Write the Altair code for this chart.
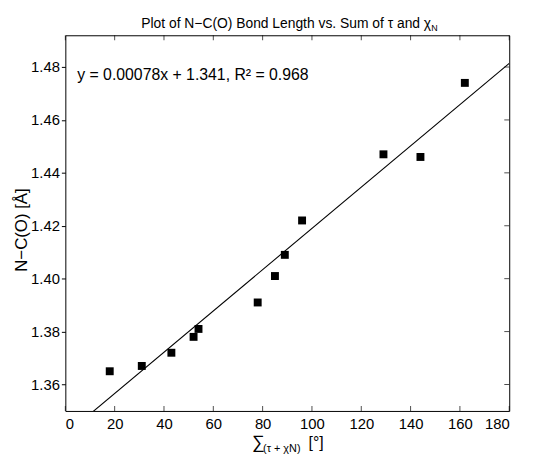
import altair as alt
import pandas as pd

# ---- data ----
x_vals = [18, 31, 43, 52, 54, 78, 85, 89, 96, 129, 144, 162]
y_vals = [1.365, 1.367, 1.372, 1.378, 1.381, 1.391, 1.401, 1.409, 1.422, 1.447, 1.446, 1.474]
slope = 0.00078
intercept = 1.341
r2 = 0.968
x_ticks = [0, 20, 40, 60, 80, 100, 120, 140, 160, 180]
y_ticks = [1.36, 1.38, 1.40, 1.42, 1.44, 1.46, 1.48]
x_domain = [0, 180]
y_domain = [1.35, 1.492]

W, H = 449, 380
FONT = "Liberation Sans"

pts = pd.DataFrame({"x": x_vals, "y": y_vals})
line_df = pd.DataFrame({"x": x_domain,
                        "y": [intercept + slope * v for v in x_domain]})
xt = pd.DataFrame({"v": x_ticks})
yt = pd.DataFrame({"v": y_ticks})
one = pd.DataFrame({"a": [0]})

xscale = alt.Scale(domain=x_domain, nice=False, zero=False)
yscale = alt.Scale(domain=y_domain, nice=False, zero=False)

xaxis = alt.Axis(values=x_ticks, ticks=False, domain=False, grid=False,
                 labelFont=FONT, labelFontSize=15, labelColor="black",
                 labelPadding=6, title=None, format="d")
yaxis = alt.Axis(values=y_ticks, tickSize=4, tickColor="black", tickWidth=1,
                 domain=False, grid=False, labelFont=FONT, labelFontSize=15,
                 labelColor="black", labelPadding=2, title=None, format=".2f")

points = alt.Chart(pts).mark_square(size=64, color="black", opacity=1).encode(
    x=alt.X("x:Q", scale=xscale, axis=xaxis),
    y=alt.Y("y:Q", scale=yscale, axis=yaxis),
)

fit = alt.Chart(line_df).mark_line(color="black", strokeWidth=1.1, clip=True).encode(
    x=alt.X("x:Q", scale=xscale),
    y=alt.Y("y:Q", scale=yscale),
)

tick_style = dict(color="black", thickness=1, size=5)
bottom_ticks = alt.Chart(xt).mark_tick(**tick_style).encode(
    x=alt.X("v:Q", scale=xscale), y=alt.value(H - 2.5))
top_ticks = alt.Chart(xt).mark_tick(**tick_style).encode(
    x=alt.X("v:Q", scale=xscale), y=alt.value(2.5))
right_ticks = alt.Chart(yt).mark_tick(**tick_style).encode(
    y=alt.Y("v:Q", scale=yscale), x=alt.value(W - 2.5))

eq_text = f"y = {slope:.5f}x + {intercept:.3f}, R\u00b2 = {r2:.3f}"
equation = alt.Chart(one).mark_text(
    text=eq_text, font=FONT, fontSize=16, align="left", baseline="alphabetic",
    color="black").encode(x=alt.value(12), y=alt.value(45))

title_main = alt.Chart(one).mark_text(
    text="Plot of N\u2212C(O) Bond Length vs. Sum of \u03c4 and \u03c7", font=FONT,
    fontSize=14, align="right", baseline="alphabetic", color="black"
).encode(x=alt.value(370), y=alt.value(-7))
title_sub = alt.Chart(one).mark_text(
    text="N", font=FONT, fontSize=9, align="left", baseline="alphabetic",
    color="black").encode(x=alt.value(370), y=alt.value(-4))

ylabel = alt.Chart(one).mark_text(
    text="N\u2212C(O) [\u00c5]", font=FONT, fontSize=17, angle=270,
    align="center", baseline="middle", color="black"
).encode(x=alt.value(-44), y=alt.value(H / 2 + 7))

xl_sigma = alt.Chart(one).mark_text(
    text="\u2211", font=FONT, fontSize=18, align="left", baseline="alphabetic",
    color="black").encode(x=alt.value(189), y=alt.value(H + 37))
xl_sub = alt.Chart(one).mark_text(
    text="(\u03c4 + \u03c7N)", font=FONT, fontSize=11, align="left",
    baseline="alphabetic", color="black").encode(x=alt.value(200), y=alt.value(H + 42))
xl_deg = alt.Chart(one).mark_text(
    text="[\u00b0]", font=FONT, fontSize=16, align="left", baseline="alphabetic",
    color="black").encode(x=alt.value(246), y=alt.value(H + 37))

chart = alt.layer(
    fit, points, bottom_ticks, top_ticks, right_ticks, equation,
    title_main, title_sub, ylabel, xl_sigma, xl_sub, xl_deg
).properties(
    width=W, height=H,
    autosize=alt.AutoSizeParams(type="none"),
    padding={"left": 58, "top": 25, "right": 20, "bottom": 44},
    background="white",
).configure_view(stroke="black", strokeWidth=1)

chart.save("out.html", embed_options={"renderer": "svg", "actions": False})
